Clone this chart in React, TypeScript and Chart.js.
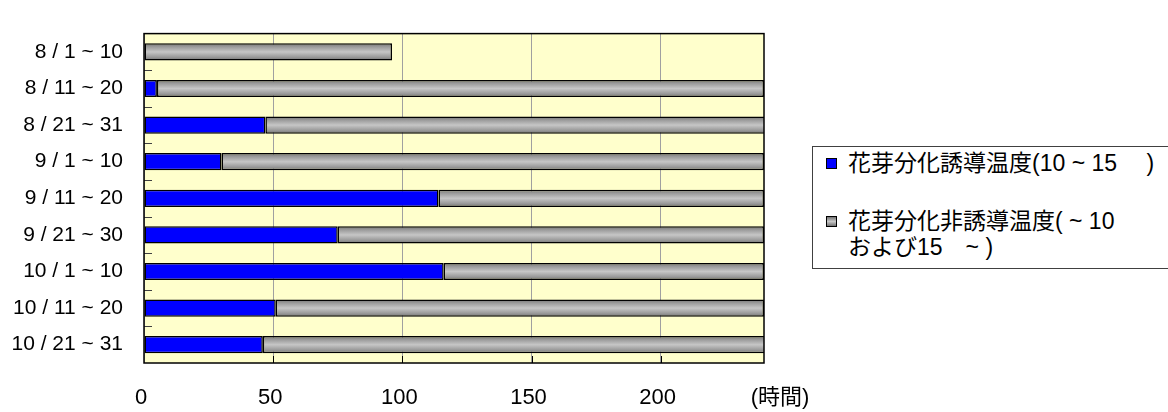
import React, { useEffect, useRef } from 'react';
import { Chart, registerables } from 'chart.js';

Chart.register(...registerables);

const categories = ['8 / 1 ~ 10', '8 / 11 ~ 20', '8 / 21 ~ 31', '9 / 1 ~ 10', '9 / 11 ~ 20', '9 / 21 ~ 30', '10 / 1 ~ 10', '10 / 11 ~ 20', '10 / 21 ~ 31'];
const inducingHours: (number | null)[] = [null, 5, 47, 30, 114, 75, 116, 51, 46];
const nonInducingHours: number[] = [96, 235, 217, 210, 126, 165, 124, 189, 218];
const xTickValues = [0, 50, 100, 150, 200];
const xMax = 240;
const inducingLabel = '花芽分化誘導温度(10 ~ 15　 )';
const nonInducingLabelLines = ['花芽分化非誘導温度( ~ 10', 'および15　~ )'];
const xUnit = '(時間)';

const FONT = '"Liberation Sans", Arial, "Noto Sans CJK JP", sans-serif';
const BAR_PCT = 0.47;

const decorPlugin = {
  id: 'decor',
  beforeDraw(chart: any) {
    const { ctx, chartArea: a } = chart;
    ctx.save();
    ctx.fillStyle = '#FFFFCC';
    ctx.fillRect(a.left, a.top, a.right - a.left, a.bottom - a.top);
    ctx.restore();
  },
  afterDraw(chart: any) {
    const { ctx, chartArea: a, scales } = chart;
    ctx.save();
    ctx.strokeStyle = '#404040';
    ctx.lineWidth = 1;
    const step = (a.bottom - a.top) / categories.length;
    for (let i = 1; i < categories.length; i++) {
      const y = Math.round(a.top + step * i) + 0.5;
      ctx.beginPath();
      ctx.moveTo(a.left, y);
      ctx.lineTo(a.left + 8, y);
      ctx.stroke();
    }
    ctx.strokeStyle = '#000';
    for (const v of xTickValues) {
      if (v === 0) continue;
      const x = Math.round(scales.x.getPixelForValue(v)) + 0.5;
      ctx.beginPath();
      ctx.moveTo(x, a.bottom - 7);
      ctx.lineTo(x, a.bottom);
      ctx.stroke();
    }
    ctx.strokeStyle = '#000';
    ctx.lineWidth = 1.5;
    ctx.strokeRect(a.left, a.top, a.right - a.left, a.bottom - a.top);
    ctx.fillStyle = '#000';
    ctx.font = '22px ' + FONT;
    ctx.textAlign = 'center';
    ctx.textBaseline = 'middle';
    ctx.fillText(xUnit, 780, 398);
    ctx.restore();
  },
};

function grayGradient(context: any) {
  const chart = context.chart;
  const y = chart.scales && chart.scales.y;
  if (!y || context.dataIndex == null || !chart.chartArea) return '#B0B0B0';
  const c = y.getPixelForValue(context.dataIndex);
  const h = ((y.bottom - y.top) / categories.length) * BAR_PCT;
  const g = chart.ctx.createLinearGradient(0, c - h / 2, 0, c + h / 2);
  g.addColorStop(0, '#737373');
  g.addColorStop(0.2, '#9A9A9A');
  g.addColorStop(0.5, '#C6C6C6');
  g.addColorStop(0.8, '#9A9A9A');
  g.addColorStop(1, '#737373');
  return g;
}

export default function App() {
  const canvasRef = useRef<HTMLCanvasElement | null>(null);

  useEffect(() => {
    document.body.style.margin = '0';
    const canvas = canvasRef.current;
    if (!canvas) return;
    const chart = new Chart(canvas, {
      type: 'bar',
      data: {
        labels: categories,
        datasets: [
          {
            label: inducingLabel,
            data: inducingHours,
            backgroundColor: '#0000FF',
            borderColor: '#000000',
            borderWidth: 1.5,
            borderSkipped: false,
            barPercentage: BAR_PCT,
            categoryPercentage: 1,
          },
          {
            label: nonInducingLabelLines.join(''),
            data: nonInducingHours,
            backgroundColor: grayGradient,
            borderColor: '#000000',
            borderWidth: 1.5,
            borderSkipped: false,
            barPercentage: BAR_PCT,
            categoryPercentage: 1,
          },
        ],
      },
      options: {
        indexAxis: 'y',
        responsive: false,
        animation: false,
        devicePixelRatio: 1,
        layout: { padding: { top: 9, right: 404, left: 0, bottom: 0 } },
        plugins: { legend: { display: false }, tooltip: { enabled: false } },
        scales: {
          x: {
            type: 'linear',
            stacked: true,
            min: 0,
            max: xMax,
            afterBuildTicks: (scale: any) => {
              scale.ticks = xTickValues.map((v) => ({ value: v }));
            },
            afterFit: (scale: any) => {
              scale.height = 49;
            },
            grid: { color: '#A0A0A0', lineWidth: 1, drawTicks: false },
            border: { display: false },
            ticks: { color: '#000', font: { family: FONT, size: 22 }, padding: 22, labelOffset: -3, maxRotation: 0 },
          },
          y: {
            type: 'category',
            stacked: true,
            afterFit: (scale: any) => {
              scale.width = 144;
            },
            grid: { display: false, drawTicks: false },
            border: { display: false },
            ticks: { color: '#000', font: { family: FONT, size: 21 }, padding: 21 },
          },
        },
      },
      plugins: [decorPlugin],
    } as any);
    return () => chart.destroy();
  }, []);

  const swatch = (bg: string) => ({
    position: 'absolute' as const,
    left: 13,
    width: 9,
    height: 9,
    border: '1px solid #000',
    background: bg,
  });
  const textStyle = {
    position: 'absolute' as const,
    left: 35,
    fontFamily: '"Liberation Sans", Arial, "Noto Sans CJK JP", sans-serif',
    fontSize: 23,
    lineHeight: '26px',
    whiteSpace: 'nowrap' as const,
    color: '#000',
  };

  return (
    <div style={{ position: 'relative', width: 1168, height: 412, overflow: 'hidden', background: '#fff' }}>
      <canvas ref={canvasRef} width={1168} height={412} style={{ display: 'block', width: 1168, height: 412 }} />
      <div
        style={{
          position: 'absolute',
          left: 812,
          top: 146,
          width: 420,
          height: 123,
          border: '1px solid #404040',
          background: '#fff',
          boxSizing: 'border-box',
        }}
      >
        <div style={{ ...swatch('#0000FF'), top: 11 }} />
        <div style={{ ...textStyle, top: 3 }}>{inducingLabel}</div>
        <div style={{ ...swatch('linear-gradient(#737373, #C6C6C6 50%, #737373)'), top: 69 }} />
        <div style={{ ...textStyle, top: 61 }}>{nonInducingLabelLines[0]}</div>
        <div style={{ ...textStyle, top: 87 }}>{nonInducingLabelLines[1]}</div>
      </div>
    </div>
  );
}
